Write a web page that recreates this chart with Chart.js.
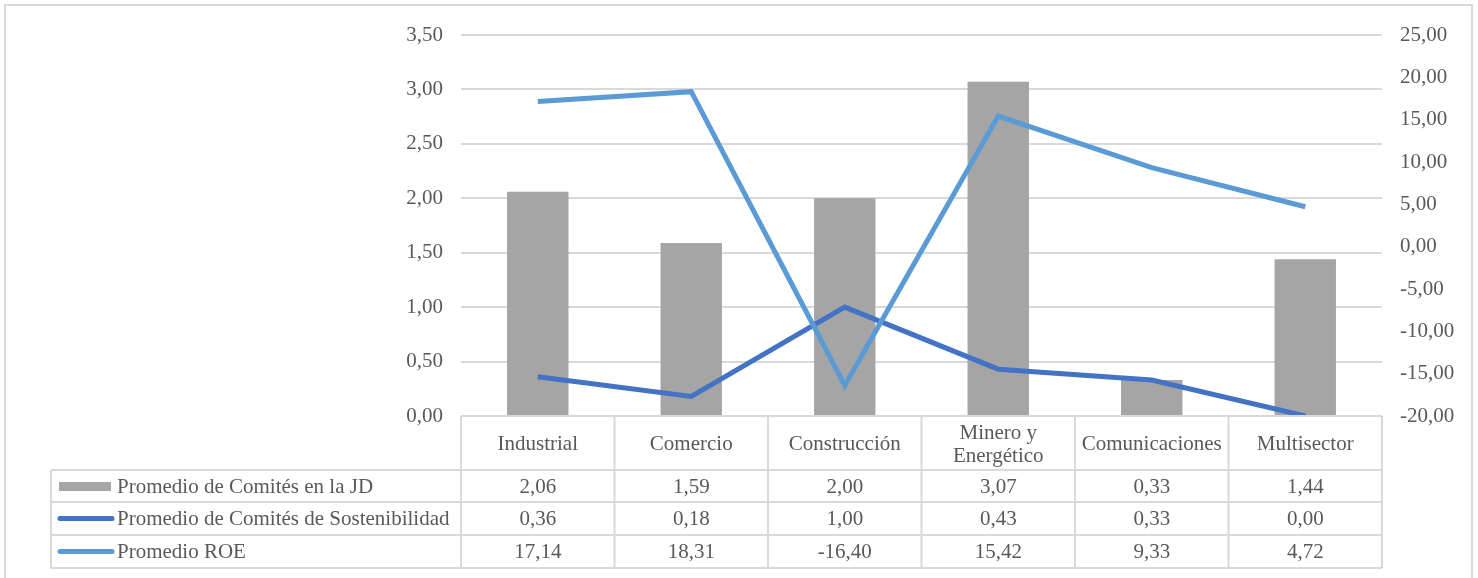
<!DOCTYPE html>
<html>
<head>
<meta charset="utf-8">
<script src="https://cdn.jsdelivr.net/npm/chart.js@4.4.1/dist/chart.umd.min.js"></script>
<style>
  html, body { margin: 0; padding: 0; background: #fff; }
  #wrap { width: 1478px; height: 578px; position: relative; }
</style>
</head>
<body>
<div id="wrap"><canvas id="sectorChart"></canvas></div>
<script>
const sectores = ['Industrial', 'Comercio', 'Construcción', ['Minero y', 'Energético'], 'Comunicaciones', 'Multisector'];
const comitesJD = [2.06, 1.59, 2.00, 3.07, 0.33, 1.44];
const comitesSost = [0.36, 0.18, 1.00, 0.43, 0.33, 0.00];
const roe = [17.14, 18.31, -16.40, 15.42, 9.33, 4.72];

const FONT = '"Liberation Serif", "Times New Roman", serif';
const TEXT = '#595959';
const LINEA = '#d9d9d9';

const fmt = v => v.toFixed(2).replace('.', ',');

// tabla de datos debajo del eje x + marco exterior
const tablaDatos = {
    id: 'tablaDatos',
    beforeDraw(chart) {
        const ctx = chart.ctx;
        ctx.save();
        ctx.strokeStyle = LINEA;
        ctx.lineWidth = 2;
        ctx.beginPath();
        ctx.moveTo(5, 600);
        ctx.lineTo(5, 5);
        ctx.lineTo(1472, 5);
        ctx.lineTo(1472, 600);
        ctx.stroke();
        ctx.restore();
    },
    afterDraw(chart) {
        const ctx = chart.ctx;
        const area = chart.chartArea;
        const n = sectores.length;
        const w = (area.right - area.left) / n;
        const top = area.bottom;
        const rows = [top, top + 54, top + 86, top + 119, top + 152];
        const legLeft = 51;

        ctx.save();
        ctx.strokeStyle = LINEA;
        ctx.lineWidth = 2;
        ctx.beginPath();
        // lineas horizontales
        ctx.moveTo(area.left, rows[0]); ctx.lineTo(area.right, rows[0]);
        for (let r = 1; r < rows.length; r++) {
            ctx.moveTo(legLeft, rows[r]); ctx.lineTo(area.right, rows[r]);
        }
        // lineas verticales
        ctx.moveTo(legLeft, rows[1]); ctx.lineTo(legLeft, rows[4]);
        for (let i = 0; i <= n; i++) {
            const x = area.left + i * w;
            ctx.moveTo(x, rows[0]); ctx.lineTo(x, rows[4]);
        }
        ctx.stroke();

        ctx.font = '21px ' + FONT;
        ctx.fillStyle = TEXT;
        ctx.textAlign = 'center';
        ctx.textBaseline = 'middle';

        // encabezados de categoría
        sectores.forEach((s, i) => {
            const x = chart.scales.x.getPixelForValue(i);
            const mid = (rows[0] + rows[1]) / 2 + 1;
            if (Array.isArray(s)) {
                ctx.fillText(s[0], x, mid - 11);
                ctx.fillText(s[1], x, mid + 12);
            } else {
                ctx.fillText(s, x, mid);
            }
        });

        // valores
        const series = [comitesJD, comitesSost, roe];
        series.forEach((vals, r) => {
            const mid = (rows[r + 1] + rows[r + 2]) / 2 + 1;
            vals.forEach((v, i) => {
                ctx.fillText(fmt(v), chart.scales.x.getPixelForValue(i), mid);
            });
        });

        // leyenda en la primera columna
        ctx.textAlign = 'left';
        chart.data.datasets.forEach((ds, r) => {
            const mid = (rows[r + 1] + rows[r + 2]) / 2;
            if (ds.type === 'bar') {
                ctx.fillStyle = ds.backgroundColor;
                ctx.fillRect(59, mid - 4, 52, 9);
            } else {
                ctx.strokeStyle = ds.borderColor;
                ctx.lineWidth = 5;
                ctx.lineCap = 'round';
                ctx.beginPath();
                ctx.moveTo(60, mid); ctx.lineTo(112, mid);
                ctx.stroke();
            }
            ctx.fillStyle = TEXT;
            ctx.fillText(ds.label, 117, mid + 1);
        });
        ctx.restore();
    }
};

new Chart(document.getElementById('sectorChart'), {
    data: {
        labels: sectores,
        datasets: [
            {
                type: 'bar',
                label: 'Promedio de Comités en la JD',
                data: comitesJD,
                backgroundColor: '#a5a5a5',
                yAxisID: 'y',
                barPercentage: 0.8,
                categoryPercentage: 0.5,
                order: 3
            },
            {
                type: 'line',
                label: 'Promedio de Comités de Sostenibilidad',
                data: comitesSost,
                borderColor: '#4472c4',
                backgroundColor: '#4472c4',
                borderWidth: 5,
                pointRadius: 0,
                tension: 0,
                yAxisID: 'y',
                order: 2
            },
            {
                type: 'line',
                label: 'Promedio ROE',
                data: roe,
                borderColor: '#5b9bd5',
                backgroundColor: '#5b9bd5',
                borderWidth: 5,
                pointRadius: 0,
                tension: 0,
                yAxisID: 'y1',
                order: 1
            }
        ]
    },
    options: {
        responsive: true,
        maintainAspectRatio: false,
        animation: false,
        layout: { padding: { top: 35, bottom: 162, left: 0, right: 0 } },
        plugins: {
            legend: { display: false },
            tooltip: { enabled: false }
        },
        scales: {
            x: {
                display: false
            },
            y: {
                position: 'left',
                min: 0,
                max: 3.5,
                afterFit: axis => { axis.width = 461; },
                border: { display: false },
                grid: { color: LINEA, lineWidth: 2, drawTicks: false },
                ticks: {
                    stepSize: 0.5,
                    padding: 18,
                    color: TEXT,
                    font: { family: FONT, size: 21 },
                    callback: v => fmt(v)
                }
            },
            y1: {
                position: 'right',
                min: -20,
                max: 25,
                afterFit: axis => { axis.width = 96; },
                border: { display: false },
                grid: { display: false, drawTicks: false },
                ticks: {
                    stepSize: 5,
                    padding: 18,
                    color: TEXT,
                    font: { family: FONT, size: 21 },
                    callback: v => fmt(v)
                }
            }
        }
    },
    plugins: [tablaDatos]
});
</script>
</body>
</html>
